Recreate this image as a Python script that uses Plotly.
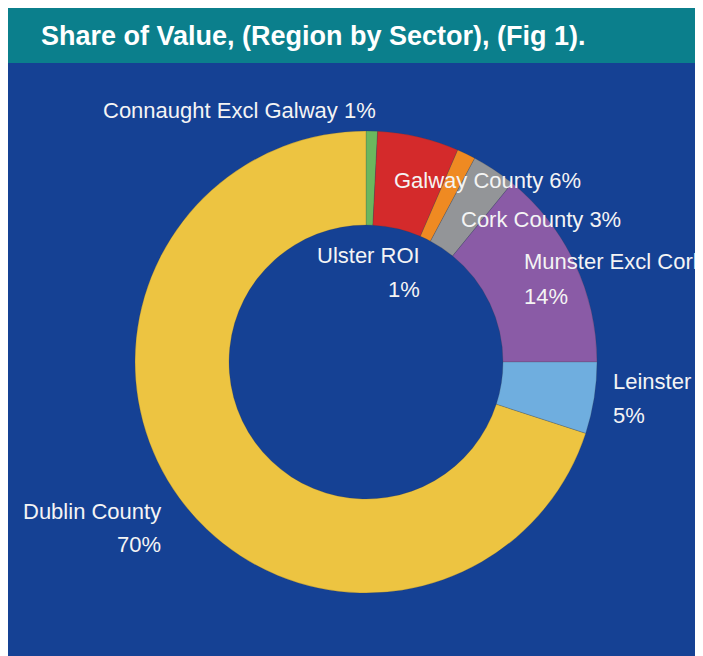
import plotly.graph_objects as go

# ---- data ----
regions = ["Connaught Excl Galway", "Galway County", "Ulster ROI", "Cork County",
           "Munster Excl Cork", "Leinster", "Dublin County"]
shares = [0.8, 5.7, 1.3, 3.1, 14.1, 5.0, 70.0]
colors = ["#6BB75E", "#D42A2B", "#EF8A22", "#939598", "#8A5BA6", "#6FAEDF", "#EDC441"]
title_text = "Share of Value, (Region by Sector), (Fig 1)."

OFF = 8  # page body margin
W, H = 703, 656 - OFF
BLUE = "#154194"
TEAL = "#0B7F8C"

def px(x):
    return (x - OFF) / W

def py(y):
    return 1 - (y - OFF) / H

cx, cy, r = 366, 362, 231

fig = go.Figure(go.Pie(
    labels=regions,
    values=shares,
    sort=False,
    direction="clockwise",
    rotation=0,
    hole=0.593,
    marker=dict(colors=colors, line=dict(color="rgba(60,60,60,0.35)", width=0.6)),
    textinfo="none",
    hoverinfo="skip",
    showlegend=False,
    domain=dict(x=[px(cx - r), px(cx + r)], y=[py(cy + r), py(cy - r)]),
))

pct = {n: f"{round(v)}%" for n, v in zip(regions, shares)}

FONT = "Arial, Liberation Sans, Helvetica, sans-serif"
lab_font = dict(family=FONT, size=22, color="#F4F4F4")

# (text, x, y, xanchor)
label_items = [
    (f"Connaught Excl Galway {pct['Connaught Excl Galway']}", 102, 110, "left"),
    (f"Galway County {pct['Galway County']}", 393, 181, "left"),
    (f"Cork County {pct['Cork County']}", 460, 219, "left"),
    ("Ulster ROI", 421, 256, "right"),
    (pct["Ulster ROI"], 421, 289, "right"),
    ("Munster Excl Cork", 523, 262, "left"),
    (pct["Munster Excl Cork"], 523, 296, "left"),
    ("Leinster", 612, 381, "left"),
    (pct["Leinster"], 612, 415, "left"),
    ("Dublin County", 162, 511, "right"),
    (pct["Dublin County"], 162, 544, "right"),
]

annotations = [
    dict(text=t, x=px(x), y=py(y), xref="paper", yref="paper", xanchor=a,
         yanchor="middle", showarrow=False, font=lab_font, borderpad=0)
    for t, x, y, a in label_items
]
annotations.append(dict(
    text=f"<b>{title_text}</b>", x=px(40), y=py(36), xref="paper", yref="paper",
    xanchor="left", yanchor="middle", showarrow=False,
    font=dict(family=FONT, size=27, color="white"), borderpad=0))

shapes = [
    dict(type="rect", xref="paper", yref="paper", x0=0, x1=1, y0=py(63), y1=1,
         fillcolor=TEAL, line=dict(width=0), layer="below"),
]

fig.update_layout(
    width=W, height=H,
    margin=dict(l=0, r=0, t=0, b=0),
    paper_bgcolor=BLUE,
    plot_bgcolor=BLUE,
    annotations=annotations,
    shapes=shapes,
)

fig.write_html("out.html", post_script="document.documentElement.style.overflow='hidden'; document.body.style.overflow='hidden';")
